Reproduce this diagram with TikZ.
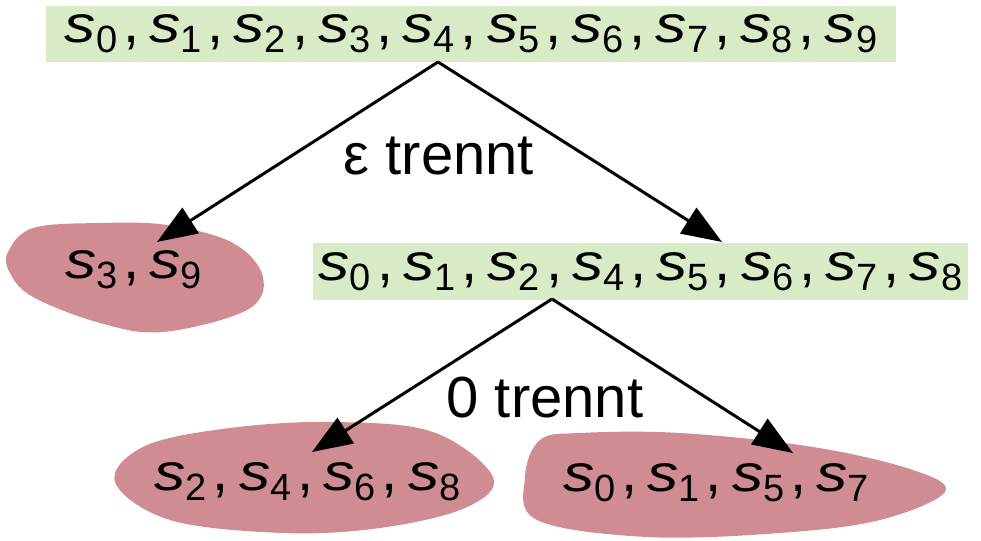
\documentclass[tikz,border=0pt]{standalone}
\usepackage{fontspec}
\setmainfont{Liberation Sans}
\usetikzlibrary{arrows.meta}
\definecolor{gfill}{RGB}{217,234,198}
\definecolor{rfill}{RGB}{207,140,146}
\newcommand\Sx[1]{{\fontsize{52}{52}\selectfont\scalebox{1.2}[1]{\textit{s}}}\raisebox{-10pt}{\fontsize{38}{38}\selectfont #1}}
\newcommand\Sep{\kern6pt,\kern10pt}
\begin{document}
\begin{tikzpicture}[x=1pt,y=-1pt, font=\fontsize{58}{62}\selectfont,
  gbox/.style={fill=gfill, inner sep=0pt, anchor=center},
  lbl/.style={inner sep=0pt, anchor=base},
  edge/.style={line width=3pt, -{Triangle[length=40pt,width=30pt]}},
  blob/.style={fill=rfill}]
\useasboundingbox (0,0) rectangle (981,540);
% blobs
\fill[blob] plot[smooth cycle, tension=0.6] coordinates {(8,252) (33,228) (100,223) (167,225) (233,243) (263,277) (247,310) (163,332) (100,323) (33,297) (10,273)};
\fill[blob] plot[smooth cycle, tension=0.6] coordinates {(115,482) (145,446) (230,428) (333,422) (433,432) (493,477) (465,508) (380,528) (283,533) (170,520)};
\fill[blob] plot[smooth cycle, tension=0.6] coordinates {(540,440) (580,433) (680,433) (813,447) (913,470) (945,492) (880,520) (780,533) (647,537) (537,520) (525,477)};
% green boxes
\node[gbox, minimum width=850pt, minimum height=56pt] (all) at (471,34)
  {\Sx0\Sep\Sx1\Sep\Sx2\Sep\Sx3\Sep\Sx4\Sep\Sx5\Sep\Sx6\Sep\Sx7\Sep\Sx8\Sep\Sx9};
\node[gbox, minimum width=655pt, minimum height=57pt] (rest) at (640.5,271.5)
  {\Sx0\Sep\Sx1\Sep\Sx2\Sep\Sx4\Sep\Sx5\Sep\Sx6\Sep\Sx7\Sep\Sx8};
% blob labels
\node[lbl] (b39) at (133.5,278) {\Sx3\Sep\Sx9};
\node[lbl] (b2468) at (307.5,490) {\Sx2\Sep\Sx4\Sep\Sx6\Sep\Sx8};
\node[lbl] (b0157) at (716,491) {\Sx0\Sep\Sx1\Sep\Sx5\Sep\Sx7};
% edge labels
\node[lbl] (eps) at (439,175) {ε trennt};
\node[lbl] (zero) at (545,417) {0 trennt};
% connector ends
\coordinate (s1) at (438,62);
\coordinate (e39) at (157,242);
\coordinate (erest) at (722,242);
\coordinate (s2) at (552,299);
\coordinate (e2468) at (312,452);
\coordinate (e0157) at (793,453);
\draw[edge] (s1) -- (e39);
\draw[edge] (s1) -- (erest);
\draw[edge] (s2) -- (e2468);
\draw[edge] (s2) -- (e0157);
\end{tikzpicture}
\end{document}
